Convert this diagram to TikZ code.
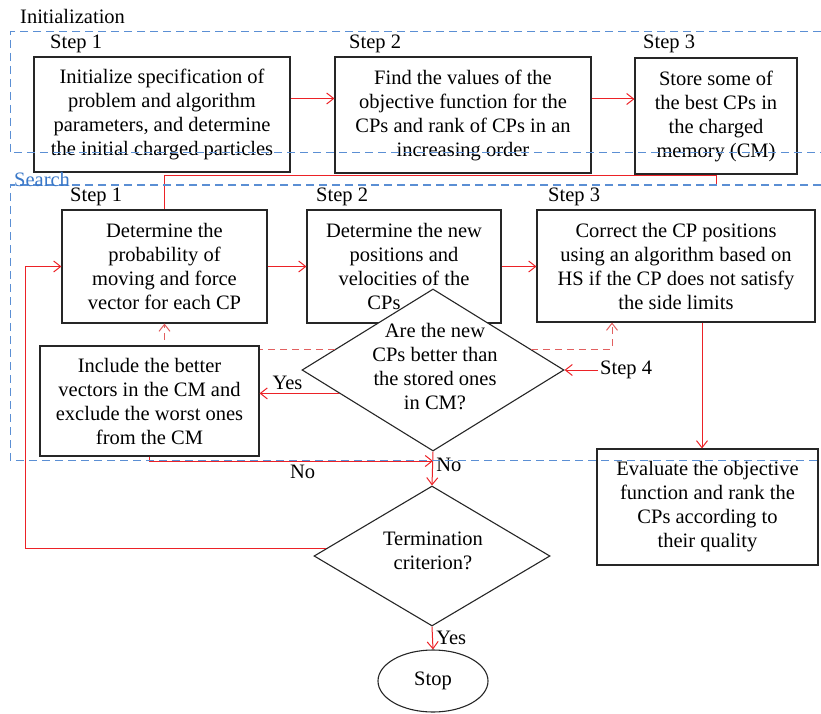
\documentclass[tikz,border=0pt]{standalone}
\usepackage{fontspec}
\setmainfont{Liberation Serif}
\usepackage{tikz}
\usetikzlibrary{shapes.geometric,arrows.meta}
\definecolor{frameblue}{RGB}{91,143,212}
\definecolor{searchblue}{RGB}{58,120,200}
\definecolor{linkred}{RGB}{236,34,39}
\definecolor{dashred}{RGB}{226,96,96}

\begin{document}
\begin{tikzpicture}[x=1pt,y=-1pt,
  font=\fontsize{20.5}{24}\selectfont,
  box/.style={draw=black!85, line width=1.1pt, fill=white, align=center, inner sep=0pt},
  link/.style={draw=linkred, line width=1pt},
  arr/.style={link, -{Straight Barb[length=7pt,width=11pt]}},
  dasharr/.style={draw=dashred, line width=1pt, dash pattern=on 7pt off 5pt, -{Straight Barb[length=7pt,width=11pt]}},
  frame/.style={draw=frameblue, line width=1pt, dash pattern=on 8pt off 5pt},
  steplbl/.style={anchor=west, inner sep=2pt}]
\useasboundingbox (0,0) rectangle (821,714);
% initialization row
\node[box, minimum width=256pt, minimum height=115pt] (init1) at (162,114.5) {Initialize specification of\\problem and algorithm\\parameters, and determine\\the initial charged particles};
\node[box, minimum width=256pt, minimum height=116pt] (init2) at (463,115) {Find the values of the\\objective function for the\\CPs and rank of CPs in an\\increasing order};
\node[box, minimum width=162pt, minimum height=116pt] (init3) at (716,116) {Store some of\\the best CPs in\\the charged\\memory (CM)};
\node[steplbl] (istep1) at (48,44) {Step 1};
\node[steplbl] (istep2) at (347,44) {Step 2};
\node[steplbl] (istep3) at (641,44) {Step 3};
% search row
\node[box, minimum width=205pt, minimum height=113pt] (srch1) at (164.5,266.5) {Determine the\\probability of\\moving and force\\vector for each CP};
\node[box, minimum width=194pt, minimum height=113pt] (srch2) at (404,266.5) {Determine the new\\positions and\\velocities of the\\CPs\hspace*{40pt}};
\node[box, minimum width=278pt, minimum height=112pt] (srch3) at (676,266) {Correct the CP positions\\using an algorithm based on\\HS if the CP does not satisfy\\the side limits};
\node[steplbl] (sstep1) at (68,197) {Step 1};
\node[steplbl] (sstep2) at (314,197) {Step 2};
\node[steplbl] (sstep3) at (546,197) {Step 3};
\node[draw=black!85, line width=1.1pt, fill=white, diamond, minimum width=262pt, minimum height=162pt, inner sep=0pt] (better) at (433,370) {};
\node[align=center, inner sep=0pt] (bettertxt) at (435,367) {Are the new\\CPs better than\\the stored ones\\in CM?};
\node[steplbl] (step4) at (598,370) {Step 4};
\node[box, minimum width=221pt, minimum height=116pt] (eval) at (707.5,507) {Evaluate the objective\\function and rank the\\CPs according to\\their quality};
\node[draw=black!85, line width=1.1pt, fill=white, diamond, minimum width=236pt, minimum height=140pt, inner sep=0pt] (term) at (432,556) {};
\node[align=center, inner sep=0pt] (termtxt) at (433,551) {Termination\\criterion?};
\node[draw=black!85, line width=1.1pt, ellipse, minimum width=110pt, minimum height=62pt] (stop) at (433,681) {Stop};
% dashed feedback
\draw[dasharr] (better.168) -| (srch1.south);
\draw[dasharr] (better.12) -| ([xshift=-64pt]srch3.south);
\node[box, minimum width=219pt, minimum height=110pt] (incl) at (149.5,401) {Include the better\\vectors in the CM and\\exclude the worst ones\\from the CM};
% connectors
\draw[arr] ([yshift=16pt]init1.east) -- ([yshift=16pt]init1.east -| init2.west);
\draw[arr] ([yshift=16pt]init2.east) -- ([yshift=16pt]init2.east -| init3.west);
\draw[link] (init3.south) ++(0,9) -- ++(0,-8) -| (srch1.north);
\draw[arr] (srch1.east) -- (srch1.east -| srch2.west);
\draw[arr] (srch2.east) -- (srch2.east -| srch3.west);
\draw[arr] (srch3.south) ++(26,0) coordinate (s3out) -- (s3out |- eval.north);
\draw[arr] (step4.west) -- (better.east);
\draw[arr] (better.194) -- node[above, pos=0.65] (yes1) {Yes} (better.194 -| incl.east);
\coordinate (join) at (433,461);
\draw[arr] (incl.south) |- node[below, pos=0.77] (no1) {No} (join);
\draw[arr] (better.south) -- node[right, pos=0.4] (no2) {No} (term.north);
\draw[arr] (term.176) -| ([xshift=-36pt]srch1.west) -- (srch1.west);
\draw[arr] (term.south) -- node[right] (yes2) {Yes} (stop.north);
% dashed frames
\draw[frame] (821,32) -| (10,153) -- (821,153);
\draw[frame] (821,185) -| (10,460) -- (821,460);
\node[anchor=west, inner sep=2pt] (initlbl) at (18,16) {Initialization};
\node[anchor=west, inner sep=2pt, text=searchblue] (srchlbl) at (12,179) {Search};
\end{tikzpicture}
\end{document}
